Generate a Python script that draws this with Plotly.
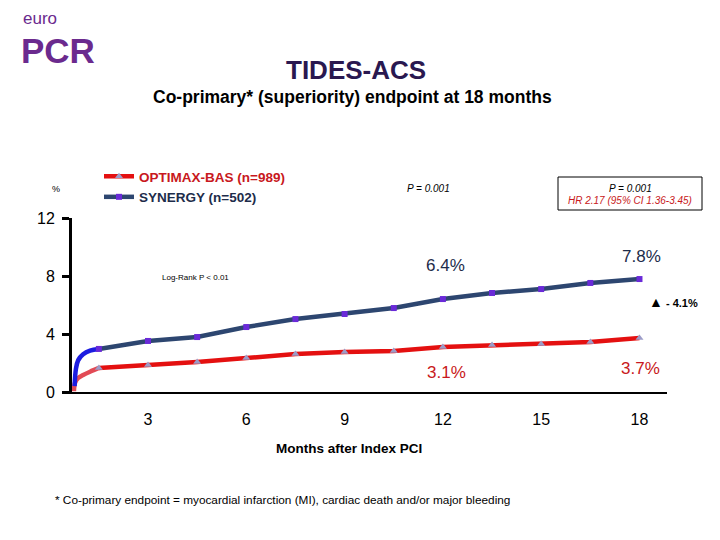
import plotly.graph_objects as go

# ---------------- data ----------------
months_tick = [3, 6, 9, 12, 15, 18]
y_ticks = [0, 4, 8, 12]

# early steep part (months, %)
syn_early_m = [0.76, 0.80, 0.87, 1.02, 1.23, 1.5]
syn_early_v = [0.40, 1.60, 2.20, 2.60, 2.85, 2.97]
opt_early_m = [0.74, 0.77, 0.86, 1.02, 1.23, 1.5]
opt_early_v = [0.05, 0.62, 0.95, 1.17, 1.40, 1.66]

# main part with markers every 1.5 months
main_m = [1.5, 3, 4.5, 6, 7.5, 9, 10.5, 12, 13.5, 15, 16.5, 18]
syn_v = [2.97, 3.52, 3.79, 4.48, 5.03, 5.38, 5.79, 6.41, 6.83, 7.10, 7.52, 7.79]
opt_v = [1.66, 1.86, 2.07, 2.34, 2.62, 2.76, 2.83, 3.10, 3.24, 3.31, 3.45, 3.72]

syn_name = "SYNERGY (n=502)"
opt_name = "OPTIMAX-BAS (n=989)"

RED = "#e41010"
RED_LIGHT = "#e24a55"
NAVY = "#2d4670"
BLUE = "#1c1ce0"
NAVY_TXT = "#1d2c4a"
RED_TXT = "#c81820"
PURPLE = "#6b2a8e"
FONT = "Arial, Liberation Sans, sans-serif"

L, R, T, B = 72, 667, 218, 392


def px(x):
    return (x - L) / (R - L)


def py(y):
    return (B - y) / (B - T)


fig = go.Figure()

fig.add_trace(go.Scatter(x=opt_early_m, y=opt_early_v, mode="lines",
                         line=dict(color=RED_LIGHT, width=4.5, shape="spline"),
                         showlegend=False, hoverinfo="skip"))
fig.add_trace(go.Scatter(x=syn_early_m, y=syn_early_v, mode="lines",
                         line=dict(color=BLUE, width=4.5, shape="spline"),
                         showlegend=False, hoverinfo="skip"))
fig.add_trace(go.Scatter(x=main_m, y=opt_v, mode="lines+markers",
                         name=f"<b><span style='color:{RED_TXT}'>{opt_name}</span></b>",
                         line=dict(color=RED, width=4.5),
                         marker=dict(symbol="triangle-up", size=7, color="#9c9cc8",
                                     line=dict(width=0))))
fig.add_trace(go.Scatter(x=main_m, y=syn_v, mode="lines+markers",
                         name=f"<b><span style='color:{NAVY_TXT}'>{syn_name}</span></b>",
                         line=dict(color=NAVY, width=4.5),
                         marker=dict(symbol="square", size=6, color="#6a2ad8",
                                     line=dict(width=0))))

ann = []


def add(text, x, y, size, color="black", xanchor="center", yanchor="middle", align="center"):
    ann.append(dict(text=text, x=px(x), y=py(y), xref="paper", yref="paper",
                    showarrow=False, xanchor=xanchor, yanchor=yanchor, align=align,
                    font=dict(size=size, color=color, family=FONT)))


add("euro", 21, 19, 17, PURPLE, xanchor="left")
add("<b>PCR</b>", 19, 50, 35, PURPLE, xanchor="left")
add("<b>TIDES-ACS</b>", 356, 70, 26, "#2a1850")
add("<b>Co-primary* (superiority) endpoint at 18 months</b>", 352, 97, 17.5)
add("%", 56, 189, 9)
add("<i>P = 0.001</i>", 428, 188, 10)
add("<i>P = 0.001</i>", 630, 188, 10)
add("<i>HR 2.17 (95% CI 1.36-3.45)</i>", 630, 200, 10, RED_TXT)
add("Log-Rank P < 0.01", 195, 277, 8)
add("6.4%", 445, 265, 17, NAVY_TXT)
add("7.8%", 641, 256, 17, NAVY_TXT)
add("3.1%", 446, 372, 17, RED_TXT)
add("3.7%", 640, 368, 17, RED_TXT)
add("<b><span style='font-size:14px'>▲</span></b> <b>- 4.1%</b>", 647, 302, 11, xanchor="left")
add("<b>Months after Index PCI</b>", 349, 448, 13.5)
add("* Co-primary endpoint = myocardial infarction (MI), cardiac death and/or major bleeding",
    53, 500, 11.8, xanchor="left")

shapes = [dict(type="rect", xref="paper", yref="paper",
               x0=px(558), x1=px(702), y0=py(177), y1=py(210),
               line=dict(color="black", width=1), fillcolor="rgba(0,0,0,0)")]

fig.update_layout(
    width=720, height=540,
    margin=dict(l=L, r=720 - R, t=T, b=540 - B, pad=0),
    paper_bgcolor="white", plot_bgcolor="white",
    font=dict(family=FONT, color="black"),
    annotations=ann, shapes=shapes,
    legend=dict(x=px(99), y=py(161), xanchor="left", yanchor="top",
                bgcolor="rgba(0,0,0,0)", font=dict(size=13.5, family=FONT),
                tracegroupgap=0, itemwidth=30),
    xaxis=dict(range=[0.68, 18.84], tickvals=months_tick,
               ticktext=[str(m) for m in months_tick],
               showgrid=False, zeroline=False, showline=True,
               linecolor="black", linewidth=1.5, ticks="",
               tickfont=dict(size=16, color="black"), ticklabelstandoff=12),
    yaxis=dict(range=[0, 12], tickvals=y_ticks,
               ticktext=[str(v) for v in y_ticks],
               showgrid=False, zeroline=False, showline=True,
               linecolor="black", linewidth=3, ticks="outside",
               ticklen=7, tickwidth=3, tickcolor="black",
               tickfont=dict(size=16, color="black"), ticklabelstandoff=4),
)

fig.write_html("out.html")
